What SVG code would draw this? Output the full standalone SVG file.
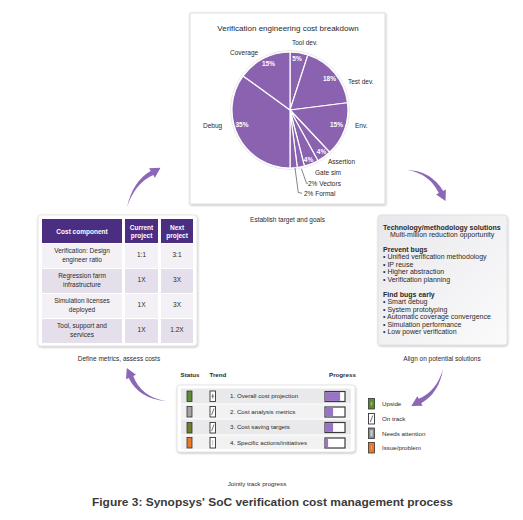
<svg xmlns="http://www.w3.org/2000/svg" width="523" height="520" viewBox="0 0 523 520">
<defs>
<filter id="sh" x="-10%" y="-10%" width="120%" height="120%"><feDropShadow dx="0.5" dy="1" stdDeviation="1.3" flood-color="#000" flood-opacity="0.28"/></filter>
<linearGradient id="gr" x1="0" y1="0" x2="1" y2="1"><stop offset="0" stop-color="#e8e7eb"/><stop offset="1" stop-color="#fbfbfc"/></linearGradient>
</defs>
<style>
text{font-family:"Liberation Sans",Arial,Helvetica,sans-serif;fill:#2a2a2a}
.c{text-anchor:middle}
.b{font-weight:bold}
.s6{font-size:6.2px}
.s65{font-size:6.5px}
.s7{font-size:7px}
.w{fill:#fff}
.slice{fill:#8a62b0;stroke:#fff;stroke-width:1.2;stroke-linejoin:round}
.pct{fill:#fff;font-weight:bold;font-size:6.5px;text-anchor:middle}
.lead{fill:none;stroke:#333;stroke-width:0.6}
.hd{fill:#4b2d82}
.ra{fill:#f3f1f5}
.rb{fill:#e5dfeb}
.arrow{fill:#8c67b7}
.frame{fill:#fff;stroke:#333;stroke-width:0.9}
.bar{fill:#fff;stroke:#3a3a3a;stroke-width:1.2}
.fill{fill:#9a74c4}
</style>
<rect width="523" height="520" fill="#fff"/>

<g id="cost-breakdown">
<rect x="190" y="13" width="195" height="191" fill="#fff" stroke="#d6d6d6" stroke-width="0.8" filter="url(#sh)"/>
<text x="288" y="31" class="c" font-size="8">Verification engineering cost breakdown</text>
<circle cx="290" cy="110" r="59.5" fill="#fff" stroke="#d8d8d8" stroke-width="0.6"/>
<path class="slice" d="M290,110 L290,52 A58,58 0 0 1 307.92,54.84 Z"/>
<path class="slice" d="M290,110 L307.92,54.84 A58,58 0 0 1 347.54,102.73 Z"/>
<path class="slice" d="M290,110 L347.54,102.73 A58,58 0 0 1 329.70,152.28 Z"/>
<path class="slice" d="M290,110 L329.70,152.28 A58,58 0 0 1 317.94,160.83 Z"/>
<path class="slice" d="M290,110 L317.94,160.83 A58,58 0 0 1 304.43,166.18 Z"/>
<path class="slice" d="M290,110 L304.43,166.18 A58,58 0 0 1 297.27,167.54 Z"/>
<path class="slice" d="M290,110 L297.27,167.54 A58,58 0 0 1 290,168 Z"/>
<path class="slice" d="M290,110 L290,168 A58,58 0 0 1 243.08,75.91 Z"/>
<path class="slice" d="M290,110 L243.08,75.91 A58,58 0 0 1 290,52 Z"/>
<text class="pct" x="297" y="60.5">5%</text>
<text class="pct" x="329.5" y="81">18%</text>
<text class="pct" x="336.5" y="127">15%</text>
<text class="pct" x="321.5" y="154" font-size="5.5">4%</text>
<text class="pct" x="308.5" y="161.5" font-size="5.5">4%</text>
<text class="pct" x="242" y="127">35%</text>
<text class="pct" x="268.5" y="65.5">15%</text>
<text class="s65" x="292" y="45">Tool dev.</text>
<text class="s65" x="230" y="54.5">Coverage</text>
<text class="s65" x="348" y="83.5">Test dev.</text>
<text class="s65" x="355" y="127.5">Env.</text>
<text class="s65" x="203" y="127.5">Debug</text>
<text class="s65" x="328" y="164">Assertion</text>
<text class="s65" x="315" y="175">Gate sim</text>
<text class="s65" x="308" y="185.5">2% Vectors</text>
<text class="s65" x="304" y="195.5">2% Formal</text>
<polyline class="lead" points="295,168 298.3,192.5 302,193.3"/>
<polyline class="lead" points="301.5,169 306.5,183.3 308,183.3"/>
</g>
<text class="c s65" x="287.5" y="222">Establish target and goals</text>

<g id="metrics-table">
<rect x="38" y="215" width="159" height="131" rx="3" fill="#fff" stroke="#d6d6d6" stroke-width="0.6" filter="url(#sh)"/>
<rect class="hd" x="42" y="219" width="80" height="24"/>
<rect class="hd" x="125" y="219" width="33" height="24"/>
<rect class="hd" x="161" y="219" width="32" height="24"/>
<rect class="ra" x="42" y="244" width="80" height="24"/><rect class="ra" x="125" y="244" width="33" height="24"/><rect class="ra" x="161" y="244" width="32" height="24"/>
<rect class="rb" x="42" y="269" width="80" height="24"/><rect class="rb" x="125" y="269" width="33" height="24"/><rect class="rb" x="161" y="269" width="32" height="24"/>
<rect class="ra" x="42" y="294" width="80" height="24"/><rect class="ra" x="125" y="294" width="33" height="24"/><rect class="ra" x="161" y="294" width="32" height="24"/>
<rect class="rb" x="42" y="319" width="80" height="24"/><rect class="rb" x="125" y="319" width="33" height="24"/><rect class="rb" x="161" y="319" width="32" height="24"/>
<text class="c b s65 w" x="82" y="234">Cost component</text>
<text class="c b s65 w" x="141.5" y="229.5">Current</text>
<text class="c b s65 w" x="141.5" y="237.5">project</text>
<text class="c b s65 w" x="177" y="229.5">Next</text>
<text class="c b s65 w" x="177" y="237.5">project</text>
<text class="c s65" x="82" y="253">Verification: Design</text>
<text class="c s65" x="82" y="261.5">engineer ratio</text>
<text class="c s65" x="141.5" y="257">1:1</text>
<text class="c s65" x="177" y="257">3:1</text>
<text class="c s65" x="82" y="278">Regression farm</text>
<text class="c s65" x="82" y="286.5">infrastructure</text>
<text class="c s65" x="141.5" y="282">1X</text>
<text class="c s65" x="177" y="282">3X</text>
<text class="c s65" x="82" y="303">Simulation licenses</text>
<text class="c s65" x="82" y="311.5">deployed</text>
<text class="c s65" x="141.5" y="307">1X</text>
<text class="c s65" x="177" y="307">3X</text>
<text class="c s65" x="82" y="328">Tool, support and</text>
<text class="c s65" x="82" y="336.5">services</text>
<text class="c s65" x="141.5" y="332">1X</text>
<text class="c s65" x="177" y="332">1.2X</text>
</g>
<text class="c s65" x="119" y="361">Define metrics, assess costs</text>

<g id="solutions">
<rect x="378" y="215" width="129" height="130" rx="3" fill="url(#gr)" stroke="#d6d6d6" stroke-width="0.6" filter="url(#sh)"/>
<text class="b s7" x="383" y="230">Technology/methodology solutions</text>
<text class="s7" x="390" y="237">Multi-million reduction opportunity</text>
<text class="b s7" x="383" y="251.5">Prevent bugs</text>
<text class="s7" x="383" y="259">• Unified verification methodology</text>
<text class="s7" x="383" y="266.5">• IP reuse</text>
<text class="s7" x="383" y="274">• Higher abstraction</text>
<text class="s7" x="383" y="281.5">• Verification planning</text>
<text class="b s7" x="383" y="296.5">Find bugs early</text>
<text class="s7" x="383" y="304">• Smart debug</text>
<text class="s7" x="383" y="311.5">• System prototyping</text>
<text class="s7" x="383" y="319">• Automatic coverage convergence</text>
<text class="s7" x="383" y="326.5">• Simulation performance</text>
<text class="s7" x="383" y="334">• Low power verification</text>
</g>
<text class="c s65" x="442" y="361">Align on potential solutions</text>

<g id="progress">
<text class="b s6" x="180.5" y="377">Status</text>
<text class="b s6" x="209.5" y="377">Trend</text>
<text class="b s6" x="329" y="377">Progress</text>
<rect x="177" y="385" width="178" height="67" rx="3" fill="#fff" stroke="#d6d6d6" stroke-width="0.6" filter="url(#sh)"/>
<rect x="181" y="388.5" width="170" height="15" fill="#e9e9eb"/>
<rect x="181" y="404.5" width="170" height="14" fill="#f2f2f3"/>
<rect x="181" y="419.5" width="170" height="15" fill="#e9e9eb"/>
<rect x="181" y="435.5" width="170" height="13.5" fill="#f2f2f3"/>
<rect x="187" y="391" width="5" height="10.5" fill="#5b8c32" stroke="#333" stroke-width="0.8"/>
<rect x="187" y="406.5" width="5" height="10.5" fill="#a3a3a3" stroke="#333" stroke-width="0.8"/>
<rect x="187" y="422.5" width="5" height="10.5" fill="#6f7d2b" stroke="#333" stroke-width="0.8"/>
<rect x="187" y="437.5" width="5" height="10.5" fill="#e8782c" stroke="#333" stroke-width="0.8"/>
<rect class="frame" x="210" y="391" width="5.5" height="10.5"/>
<path d="M212.75,394 v4.5 M211.3,396.2 h2.9" stroke="#333" stroke-width="0.6"/>
<rect class="frame" x="210" y="406.5" width="5.5" height="10.5"/>
<path d="M211.6,415 L214,408.5" stroke="#333" stroke-width="0.7"/>
<rect class="frame" x="210" y="422.5" width="5.5" height="10.5"/>
<path d="M211.6,431 L214,424.5" stroke="#333" stroke-width="0.7"/>
<rect class="frame" x="210" y="437.5" width="5.5" height="10.5"/>
<path d="M212.75,440 v5.5" stroke="#999" stroke-width="0.6"/>
<text class="s6" x="230" y="398">1. Overall cost projection</text>
<text class="s6" x="230" y="413.5">2. Cost analysis metrics</text>
<text class="s6" x="230" y="429">3. Cost saving targets</text>
<text class="s6" x="230" y="444.5">4. Specific actions/initiatives</text>
<rect class="bar" x="325" y="391.5" width="20" height="10"/>
<rect class="fill" x="325.6" y="392.1" width="14.5" height="8.8"/>
<rect class="bar" x="325" y="407" width="20" height="10"/>
<rect class="fill" x="325.6" y="407.6" width="7.5" height="8.8"/>
<rect class="bar" x="325" y="422.5" width="20" height="10"/>
<rect class="fill" x="325.6" y="423.1" width="7.5" height="8.8"/>
<rect class="bar" x="325" y="438" width="20" height="10"/>
<rect class="fill" x="325.6" y="438.6" width="2.5" height="8.8"/>
</g>
<text class="c s6" x="257" y="486">Jointly track progress</text>

<g id="legend">
<rect x="368.5" y="398.5" width="6" height="10.5" fill="#5b8c32" stroke="#333" stroke-width="0.8"/>
<path d="M371.5,401.5 v4.5 M370,403.7 h3" stroke="#a8c98a" stroke-width="0.6"/>
<text class="s6" x="382" y="406">Upside</text>
<rect class="frame" x="368.5" y="413.5" width="6" height="10.5"/>
<path d="M370.3,422 L372.8,415.5" stroke="#333" stroke-width="0.7"/>
<text class="s6" x="382" y="420.5">On track</text>
<rect x="368.5" y="428" width="6" height="10.5" fill="#8a8a8a" stroke="#333" stroke-width="0.8"/>
<rect x="370.3" y="430" width="2.4" height="6.5" fill="#c8c8c8"/>
<text class="s6" x="382" y="435.5">Needs attention</text>
<rect x="368.5" y="442.5" width="6" height="10.5" fill="#e8782c" stroke="#333" stroke-width="0.8"/>
<path d="M371.5,445.5 v4" stroke="#f6b98a" stroke-width="0.6"/>
<text class="s6" x="382" y="450">Issue/problem</text>
</g>

<g id="connectors">
<path class="arrow" d="M127,207 Q135.2,182.9 153.3,175.1 L154.9,177.7 L160.5,167.8 L149.1,168.3 L150.7,170.9 Q132.8,181.1 127,207 Z"/>
<path class="arrow" d="M407,170 Q429.2,173.3 438.8,193.1 L436.1,194.5 L445.5,200.9 L445.9,189.5 L443.2,190.9 Q430.8,170.7 407,170 Z"/>
<path class="arrow" d="M443,369 Q436.8,391.1 418.8,398.8 L417.3,396.2 L411.3,405.9 L422.7,405.8 L421.2,403.2 Q439.2,392.9 443,369 Z"/>
<path class="arrow" d="M166,401 Q140.9,396.8 133.3,375.9 L136,374.7 L126.8,367.9 L126,379.3 L128.7,378.1 Q139.1,399.2 166,401 Z"/>
</g>

<text class="c b" x="272.5" y="506" font-size="10.5" textLength="361" lengthAdjust="spacingAndGlyphs" style="fill:#3a3a3a">Figure 3: Synopsys' SoC verification cost management process</text>
</svg>
